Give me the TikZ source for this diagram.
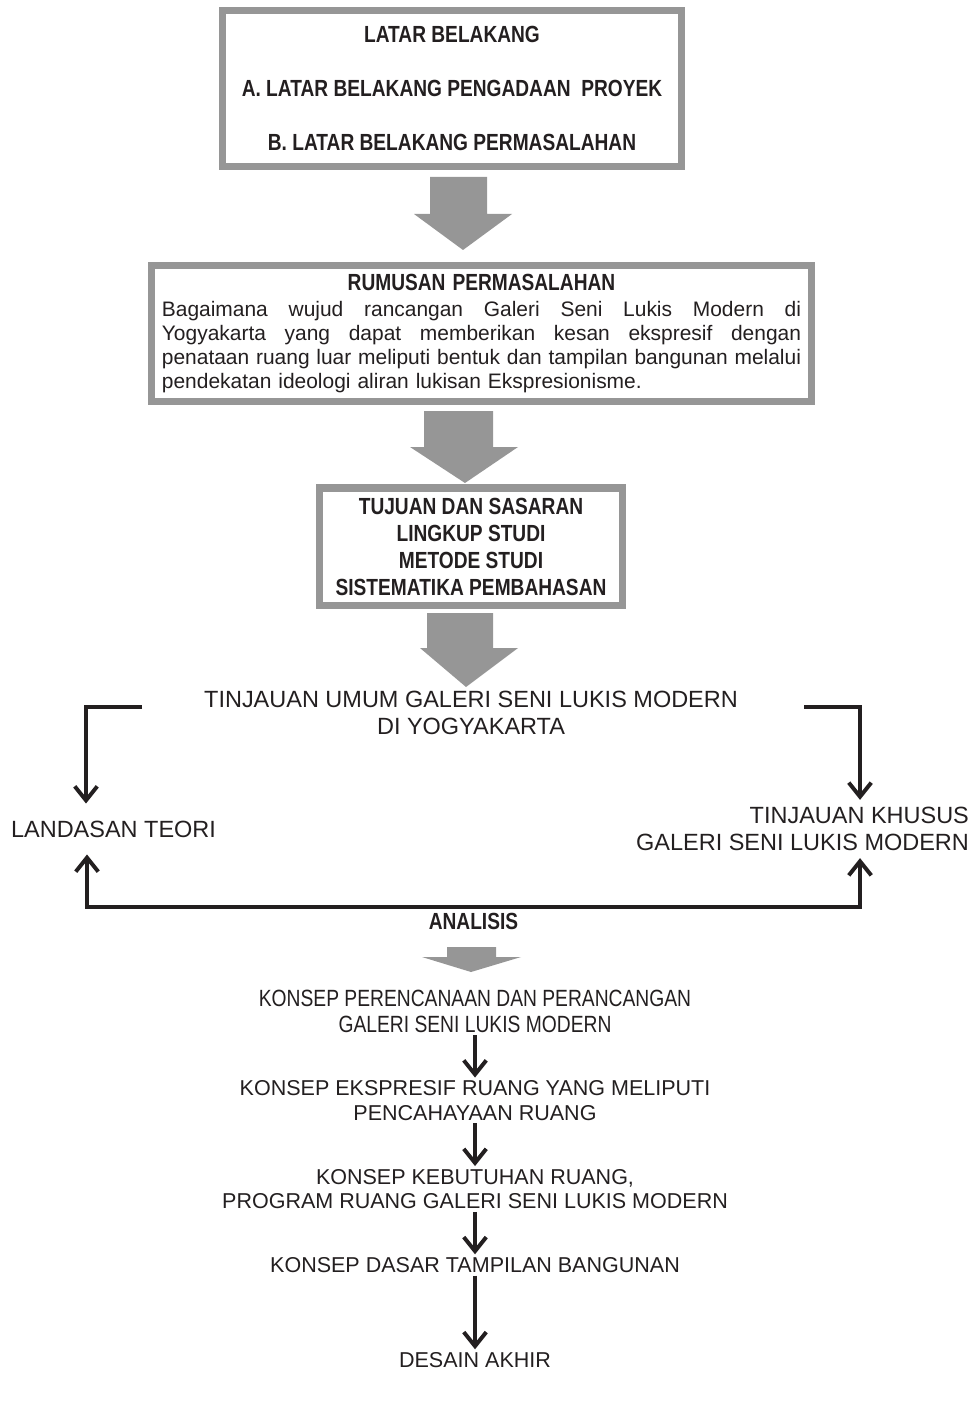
\documentclass[tikz,border=0pt]{standalone}
\usepackage{fontspec}
\setmainfont{Liberation Sans}
\newfontfamily\narrowfont[FakeStretch=0.82]{Liberation Sans}
\usepackage{tikz}
\usetikzlibrary{arrows.meta,calc}
\definecolor{boxgray}{RGB}{150,150,150}
\definecolor{inkblack}{RGB}{35,31,32}

\begin{document}
\begin{tikzpicture}[
    x=0.025cm, y=-0.025cm,
    >={Straight Barb[length=10pt,width=16pt]},
    every node/.style={text=inkblack},
    graybox/.style={draw=boxgray, line width=5pt, fill=white, align=center},
    headtext/.style={font=\narrowfont\bfseries\fontsize{16.6}{19.2}\selectfont, align=center},
    bigtext/.style={font=\fontsize{16.7}{19.2}\selectfont, align=center, inner sep=2pt},
    slimtext/.style={font=\narrowfont\fontsize{16.7}{18.5}\selectfont, align=center, inner sep=2pt},
    steptext/.style={font=\fontsize{15.3}{17.4}\selectfont, align=center, inner sep=2pt},
    blockarrow/.style={fill=boxgray},
    flow/.style={->, line width=2.8pt, draw=inkblack}
]
\useasboundingbox (0,0) rectangle (976,1417);

% upper boxes
\node[graybox, headtext, minimum width=11.475cm, minimum height=3.9cm] (latar) at (452,88.5)
    {LATAR BELAKANG\\[19.2pt] A. LATAR BELAKANG PENGADAAN\ \ PROYEK\\[19.2pt] B. LATAR BELAKANG PERMASALAHAN};
\node[graybox, minimum width=16.5cm, minimum height=3.4cm, text width=15.975cm,
    font=\fontsize{14.9}{17.1}\selectfont] (rumusan) at (481.5,333.5)
    {{\narrowfont\bfseries\fontsize{16.6}{19.2}\selectfont RUMUSAN PERMASALAHAN}\\[1.4pt]
    \leavevmode\hbox to 15.975cm{\spaceskip=0.25em plus 1fil Bagaimana wujud rancangan Galeri Seni Lukis Modern di}\\
    \leavevmode\hbox to 15.975cm{\spaceskip=0.25em plus 1fil Yogyakarta yang dapat memberikan kesan ekspresif dengan}\\
    \leavevmode\hbox to 15.975cm{\spaceskip=0.25em plus 1fil penataan ruang luar meliputi bentuk dan tampilan bangunan melalui}\\
    \leavevmode\hbox to 15.975cm{pendekatan ideologi aliran lukisan Ekspresionisme.\hfil}};
\node[graybox, headtext, minimum width=7.55cm, minimum height=2.925cm] (tujuan) at (471,546.5)
    {TUJUAN DAN SASARAN\\LINGKUP STUDI\\METODE STUDI\\SISTEMATIKA PEMBAHASAN};

% gray block arrows
\fill[blockarrow] (430,177) -- (487,177) -- (487,214) -- (512,214) -- (463,250) -- (414,214) -- (430,214) -- cycle;
\fill[blockarrow] (424,411) -- (493,411) -- (493,447) -- (518,447) -- (465,483) -- (410,447) -- (424,447) -- cycle;
\fill[blockarrow] (427,613) -- (493,613) -- (493,648) -- (518,648) -- (466,687) -- (420,648) -- (427,648) -- cycle;
\fill[blockarrow] (447,947) -- (496,947) -- (496,957) -- (521,957) -- (471,972) -- (422,957) -- (447,957) -- cycle;

% review and analysis
\node[bigtext] (umum) at (471,713) {TINJAUAN UMUM GALERI SENI LUKIS MODERN\\DI YOGYAKARTA};
\node[bigtext, anchor=west, inner ysep=12pt] (landasan) at (8,829) {LANDASAN TEORI};
\node[bigtext, align=right, anchor=east, inner ysep=5pt] (khusus) at (972,829)
    {TINJAUAN KHUSUS\\GALERI SENI LUKIS MODERN};
\coordinate (lfrom) at (142,707);
\coordinate (lbend) at (86,707);
\coordinate (rfrom) at (804,707);
\coordinate (rbend) at (860,707);
\coordinate (lfoot) at (87,907);
\coordinate (rfoot) at (860,907);
\draw[flow] (lfrom) -- (lbend) -- (lbend |- landasan.north);
\draw[flow] (rfrom) -- (rbend) -- (rbend |- khusus.north);
\draw[flow, <->] (lfoot |- landasan.south) -- (lfoot)
    -- node[below, headtext, inner sep=3pt] (analisis) {ANALISIS} (rfoot) -- (rfoot |- khusus.south);

% concept chain
\node[slimtext] (perencanaan) at (475,1011) {KONSEP PERENCANAAN DAN PERANCANGAN\\GALERI SENI LUKIS MODERN};
\node[steptext] (ekspresif) at (475,1100.5) {KONSEP EKSPRESIF RUANG YANG MELIPUTI\\PENCAHAYAAN RUANG};
\node[steptext] (kebutuhan) at (475,1189) {KONSEP KEBUTUHAN RUANG,\\PROGRAM RUANG GALERI SENI LUKIS MODERN};
\node[steptext] (dasar) at (475,1265) {KONSEP DASAR TAMPILAN BANGUNAN};
\node[steptext] (desain) at (475,1360) {DESAIN AKHIR};
\draw[flow] (perencanaan) -- (ekspresif);
\draw[flow] (ekspresif) -- (kebutuhan);
\draw[flow] (kebutuhan) -- (dasar);
\draw[flow] (dasar) -- (desain);
\end{tikzpicture}
\end{document}
